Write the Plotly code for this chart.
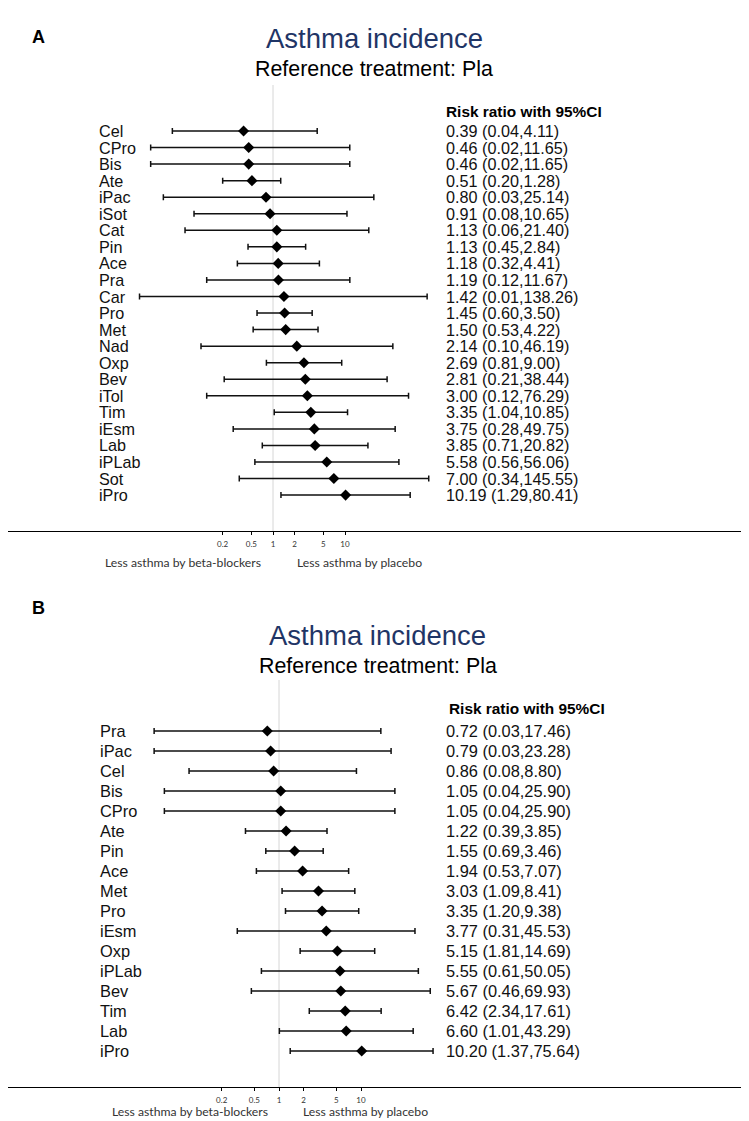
import plotly.graph_objects as go

# ---------------- data ----------------
names_a = ["Cel", "CPro", "Bis", "Ate", "iPac", "iSot", "Cat", "Pin", "Ace", "Pra", "Car",
           "Pro", "Met", "Nad", "Oxp", "Bev", "iTol", "Tim", "iEsm", "Lab", "iPLab", "Sot", "iPro"]
est_a = [0.39, 0.46, 0.46, 0.51, 0.80, 0.91, 1.13, 1.13, 1.18, 1.19, 1.42,
         1.45, 1.50, 2.14, 2.69, 2.81, 3.00, 3.35, 3.75, 3.85, 5.58, 7.00, 10.19]
lo_a = [0.04, 0.02, 0.02, 0.20, 0.03, 0.08, 0.06, 0.45, 0.32, 0.12, 0.014,
        0.60, 0.53, 0.10, 0.81, 0.21, 0.12, 1.04, 0.28, 0.71, 0.56, 0.34, 1.29]
hi_a = [4.11, 11.65, 11.65, 1.28, 25.14, 10.65, 21.40, 2.84, 4.41, 11.67, 138.26,
        3.50, 4.22, 46.19, 9.00, 38.44, 76.29, 10.85, 49.75, 20.82, 56.06, 145.55, 80.41]

names_b = ["Pra", "iPac", "Cel", "Bis", "CPro", "Ate", "Pin", "Ace", "Met", "Pro",
           "iEsm", "Oxp", "iPLab", "Bev", "Tim", "Lab", "iPro"]
est_b = [0.72, 0.79, 0.86, 1.05, 1.05, 1.22, 1.55, 1.94, 3.03, 3.35,
         3.77, 5.15, 5.55, 5.67, 6.42, 6.60, 10.20]
lo_b = [0.03, 0.03, 0.08, 0.04, 0.04, 0.39, 0.69, 0.53, 1.09, 1.20,
        0.31, 1.81, 0.61, 0.46, 2.34, 1.01, 1.37]
hi_b = [17.46, 23.28, 8.80, 25.90, 25.90, 3.85, 3.46, 7.07, 8.41, 9.38,
        45.53, 14.69, 50.05, 69.93, 17.61, 43.29, 75.64]

tick_vals = [0.2, 0.5, 1, 2, 5, 10]
tick_text = ["0.2", "0.5", "1", "2", "5", "10"]

panel_letters = ["A", "B"]
title_text = "Asthma incidence"
subtitle_text = "Reference treatment: Pla"
header_text = "Risk ratio with 95%CI"
left_note = "Less asthma by beta-blockers"
right_note = "Less asthma by placebo"

# ---------------- layout geometry (pixels of the page) ----------------
OFF = 8                      # default body margin of the html page
W, H = 749 - OFF, 1121 - OFF  # figure size so that it ends at the window edge
ARIAL = "Liberation Sans, Arial, sans-serif"
NOTE_FONT = "Lato, Carlito, Calibri, sans-serif"


def px(x):
    return (x - OFF) / W


def py(y):
    return 1 - (y - OFF) / H


panels = [
    dict(names=names_a, est=est_a, lo=lo_a, hi=hi_a,
         x1=273, ppd=72, row0=131, step=16.55, axis_y=531, dom_top=OFF, vtop=85,
         letter_y=37, title_x=374, title_y=38, sub_x=374, sub_y=69,
         head_x=444, head_y=112, name_x=97, val_x=444, fs=16.2,
         note_y=563, note_l=183, note_r=359),
    dict(names=names_b, est=est_b, lo=lo_b, hi=hi_b,
         x1=279, ppd=82, row0=731, step=20, axis_y=1087, dom_top=590, vtop=680,
         letter_y=608, title_x=377, title_y=635, sub_x=378, sub_y=666,
         head_x=447, head_y=708, name_x=98, val_x=444, fs=16.4,
         note_y=1111, note_l=189.5, note_r=365.6),
]

fig = go.Figure()
annotations = []
shapes = []
layout_axes = {}

for k, p in enumerate(panels):
    xa = "x" if k == 0 else "x2"
    ya = "y" if k == 0 else "y2"
    xname = "xaxis" if k == 0 else "xaxis2"
    yname = "yaxis" if k == 0 else "yaxis2"
    n = len(p["names"])
    rows = list(range(n))

    fig.add_trace(go.Scatter(
        x=p["est"], y=rows, mode="markers", xaxis=xa, yaxis=ya,
        marker=dict(symbol="diamond", size=8.5, color="black"),
        error_x=dict(type="data", symmetric=False,
                     array=[h - e for h, e in zip(p["hi"], p["est"])],
                     arrayminus=[e - l for e, l in zip(p["est"], p["lo"])],
                     color="#111111", thickness=1.5, width=3),
        showlegend=False, hoverinfo="skip"))

    xl, xr = OFF, 745
    rng = [(xl - p["x1"]) / p["ppd"], (xr - p["x1"]) / p["ppd"]]
    y_bot = (p["axis_y"] - p["row0"]) / p["step"]
    y_top = (p["dom_top"] - p["row0"]) / p["step"]
    layout_axes[xname] = dict(
        type="log", range=rng, domain=[px(xl), px(xr)], anchor=ya,
        showgrid=False, zeroline=False, showline=True, linecolor="black", linewidth=1.3,
        ticks="outside", ticklen=3, tickwidth=1, tickcolor="black",
        tickvals=tick_vals, ticktext=tick_text,
        tickfont=dict(family=NOTE_FONT, size=8, color="#333333"),
        ticklabelstandoff=2, fixedrange=True)
    layout_axes[yname] = dict(
        range=[y_bot, y_top], domain=[py(p["axis_y"]), py(p["dom_top"])], anchor=xa,
        showgrid=False, zeroline=False, showline=False, showticklabels=False,
        ticks="", fixedrange=True)

    # reference line at RR = 1
    shapes.append(dict(type="line", xref=xa, yref=ya, x0=1, x1=1,
                       y0=(p["vtop"] - p["row0"]) / p["step"], y1=y_bot,
                       line=dict(color="#d6d6d6", width=1), layer="below"))

    # names and values
    for i in rows:
        annotations.append(dict(
            text=p["names"][i], xref="paper", yref=ya, x=px(p["name_x"]), y=i,
            xanchor="left", yanchor="middle", showarrow=False,
            font=dict(family=ARIAL, size=p["fs"], color="#111111")))
        label = f"{p['est'][i]:.2f} ({p['lo'][i]:.2f},{p['hi'][i]:.2f})"
        annotations.append(dict(
            text=label, xref="paper", yref=ya, x=px(p["val_x"]), y=i,
            xanchor="left", yanchor="middle", showarrow=False,
            font=dict(family=ARIAL, size=p["fs"], color="#111111")))

    # titles etc.
    annotations += [
        dict(text=f"<b>{panel_letters[k]}</b>", xref="paper", yref="paper",
             x=px(30), y=py(p["letter_y"]), xanchor="left", yanchor="middle",
             showarrow=False, font=dict(family=ARIAL, size=18, color="black")),
        dict(text=title_text, xref="paper", yref="paper",
             x=px(p["title_x"]), y=py(p["title_y"]), xanchor="center", yanchor="middle",
             showarrow=False, font=dict(family=ARIAL, size=27.5, color="#1f3566")),
        dict(text=subtitle_text, xref="paper", yref="paper",
             x=px(p["sub_x"]), y=py(p["sub_y"]), xanchor="center", yanchor="middle",
             showarrow=False, font=dict(family=ARIAL, size=21.4, color="black")),
        dict(text=f"<b>{header_text}</b>", xref="paper", yref="paper",
             x=px(p["head_x"]), y=py(p["head_y"]), xanchor="left", yanchor="middle",
             showarrow=False, font=dict(family=ARIAL, size=15.4, color="black")),
        dict(text=left_note, xref="paper", yref="paper",
             x=px(p["note_l"]), y=py(p["note_y"]), xanchor="center", yanchor="middle",
             showarrow=False, font=dict(family=NOTE_FONT, size=12.2, color="#333333")),
        dict(text=right_note, xref="paper", yref="paper",
             x=px(p["note_r"]), y=py(p["note_y"]), xanchor="center", yanchor="middle",
             showarrow=False, font=dict(family=NOTE_FONT, size=12.2, color="#333333")),
    ]

fig.update_layout(
    width=W, height=H, margin=dict(l=0, r=0, t=0, b=0),
    paper_bgcolor="white", plot_bgcolor="white",
    annotations=annotations, shapes=shapes, showlegend=False,
    **layout_axes)

fig.write_html("out.html")
